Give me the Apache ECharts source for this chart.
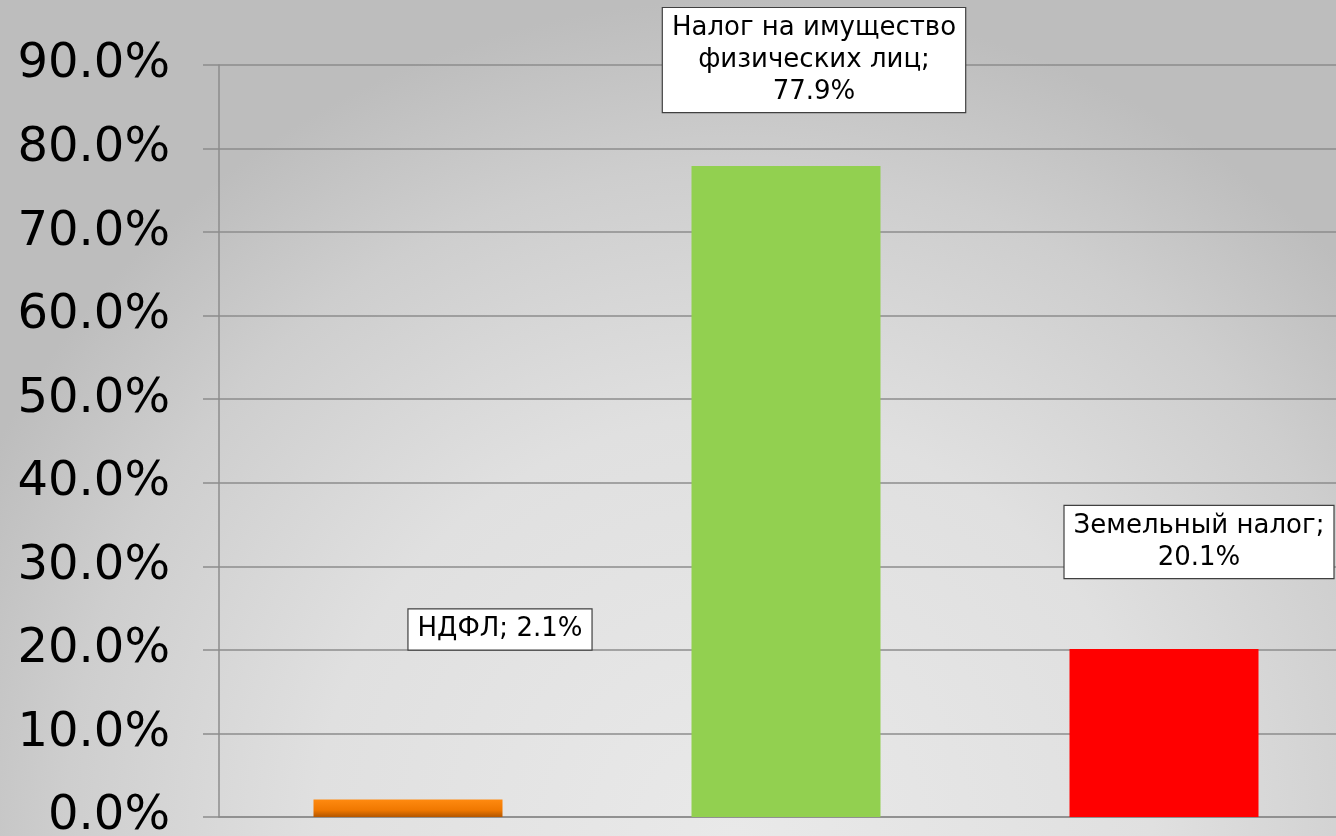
<!DOCTYPE html>
<html>
<head>
<meta charset="utf-8">
<script src="https://cdn.jsdelivr.net/npm/echarts@6/dist/echarts.min.js"></script>
<style>
  html, body { margin: 0; padding: 0; }
  #chart { width: 1336px; height: 836px; }
</style>
</head>
<body>
<div id="chart"></div>
<script>
// категории и доли налогов
var categories = ['НДФЛ', 'Налог на имущество\nфизических лиц', 'Земельный налог']
var shares = [2.1, 77.9, 20.1]
var yTicks = [0, 10, 20, 30, 40, 50, 60, 70, 80, 90]

var myChart = echarts.init(document.getElementById('chart'))

// цвета столбцов и смещения подписей
var barColors = [
  new echarts.graphic.LinearGradient(0, 0, 0, 1, [
    { offset: 0, color: '#ff8a10' },
    { offset: 0.6, color: '#f07800' },
    { offset: 1, color: '#b35600' }
  ]),
  '#92d050',
  '#ff0000'
]
var labelOffsets = [[92, -150], [28, -54], [35, -71]]

var data = shares.map(function (v, i) {
  return {
    value: v,
    itemStyle: { color: barColors[i] },
    label: { offset: labelOffsets[i] }
  }
})

var option = {
  backgroundColor: new echarts.graphic.RadialGradient(0.55, 1.0, 1.0, [
    { offset: 0, color: '#e9e9e9' },
    { offset: 0.5, color: '#e0e0e0' },
    { offset: 0.8, color: '#cecece' },
    { offset: 1, color: '#bdbdbd' }
  ]),
  animation: false,
  grid: { left: 219, right: -17, top: 65, bottom: 19, containLabel: false, outerBoundsMode: 'none' },
  xAxis: {
    type: 'category',
    data: categories,
    axisLine: { show: true, lineStyle: { color: '#8c8c8c', width: 1.5 } },
    axisTick: { show: false },
    axisLabel: { show: false }
  },
  yAxis: {
    type: 'value',
    min: yTicks[0],
    max: yTicks[yTicks.length - 1],
    interval: 10,
    axisLine: { show: true, lineStyle: { color: '#8c8c8c', width: 1.5 } },
    axisTick: { show: true, inside: false, length: 16, lineStyle: { color: '#8c8c8c', width: 1.5 } },
    splitLine: { show: true, lineStyle: { color: '#8c8c8c', width: 1.5 } },
    axisLabel: {
      margin: 49,
      color: '#000',
      fontFamily: 'DejaVu Sans',
      fontSize: 48,
      formatter: function (v) { return v.toFixed(1) + '%' }
    }
  },
  series: [{
    type: 'bar',
    data: data,
    barWidth: '50%',
    label: {
      show: true,
      position: 'top',
      distance: 0,
      color: '#000',
      fontFamily: 'DejaVu Sans',
      fontSize: 26,
      lineHeight: 32,
      align: 'center',
      backgroundColor: '#fff',
      borderColor: '#404040',
      borderWidth: 1.2,
      padding: [4, 9, 4, 9],
      formatter: function (p) {
        var sep = p.dataIndex === 0 ? ' ' : '\n'
        return p.name + ';' + sep + p.value.toFixed(1) + '%'
      }
    }
  }]
}

myChart.setOption(option)
</script>
</body>
</html>
